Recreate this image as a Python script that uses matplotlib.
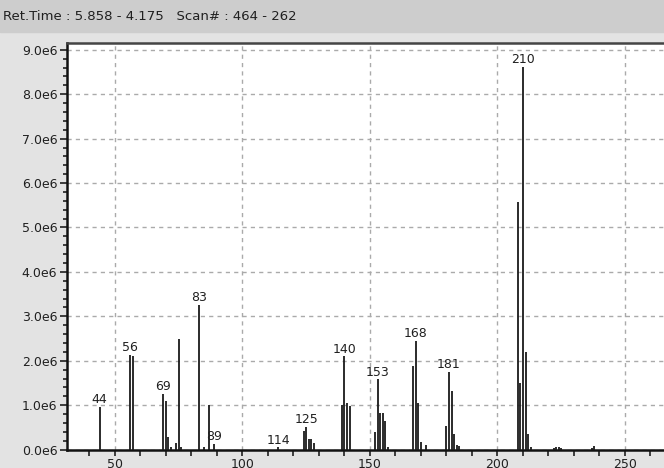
import matplotlib
matplotlib.use('Agg')
import matplotlib.pyplot as plt
from matplotlib.patches import Rectangle
from matplotlib.ticker import MultipleLocator, FuncFormatter

# m/z and intensity (x 1e6)
mz = [44, 56, 57, 69, 70, 71, 72, 74, 75, 76, 83, 85, 87, 89, 114,
      124, 125, 126, 127, 128, 139, 140, 141, 142,
      152, 153, 154, 155, 156, 157, 167, 168, 169, 170, 172,
      180, 181, 182, 183, 184, 185, 208, 209, 210, 211, 212, 213,
      222, 223, 224, 225, 237, 238]
intensity = [0.96, 2.13, 2.10, 1.25, 1.10, 0.29, 0.05, 0.14, 2.48, 0.05, 3.26, 0.05, 1.00, 0.13, 0.05,
             0.42, 0.52, 0.23, 0.23, 0.14, 1.00, 2.10, 1.05, 0.98,
             0.40, 1.58, 0.83, 0.83, 0.65, 0.05, 1.89, 2.45, 1.04, 0.16, 0.10,
             0.53, 1.75, 1.32, 0.34, 0.10, 0.08, 5.58, 1.49, 8.61, 2.20, 0.35, 0.05,
             0.04, 0.06, 0.05, 0.04, 0.04, 0.07]
labelled = [44, 56, 69, 83, 89, 114, 125, 140, 153, 168, 181, 210]
header = 'Ret.Time : 5.858 - 4.175   Scan# : 464 - 262'

W, H = 664, 468
fig = plt.figure(figsize=(W / 100, H / 100), dpi=100)
fig.patch.set_facecolor('#e3e3e3')
fig.add_artist(Rectangle((0, 1 - 32 / H), 1, 32 / H, transform=fig.transFigure,
                         color='#cdcdcd', zorder=0))
fig.text(3 / W, 1 - 17 / H, header, fontsize=9.5, color='#202020',
         ha='left', va='center')

ax = fig.add_axes([67 / W, (H - 449.6) / H, (W - 67) / W, (449.6 - 42.7) / H])
ax.set_facecolor('white')

ints = [v * 1e6 for v in intensity]
ax.vlines(mz, 0, ints, color='#1a1a1a', lw=1.3, zorder=3)

peak = dict(zip(mz, ints))
for m in labelled:
    ax.annotate(str(m), (m, peak[m]), xytext=(0, 0.5), textcoords='offset points',
                ha='center', va='bottom', fontsize=9, color='#202020', zorder=4)

ax.set_xlim(31.2, 265.3)
ax.set_ylim(0, 9.16e6)

ax.xaxis.set_major_locator(MultipleLocator(50))
ax.xaxis.set_minor_locator(MultipleLocator(10))
ax.yaxis.set_major_locator(MultipleLocator(1e6))
ax.yaxis.set_minor_locator(MultipleLocator(0.2e6))
ax.yaxis.set_major_formatter(FuncFormatter(lambda v, p: '%.1fe6' % (v / 1e6)))

ax.tick_params(axis='both', which='both', direction='out', colors='#202020',
               labelsize=9, width=1.2)
ax.tick_params(axis='x', which='both', length=4, pad=2)
ax.tick_params(axis='y', which='major', length=5, pad=2)
ax.tick_params(axis='y', which='minor', length=3)

ax.grid(True, which='major', color='#aaaaaa', lw=1, linestyle=(0, (3, 3)), zorder=1)
ax.set_axisbelow(True)

for side in ['left', 'bottom']:
    ax.spines[side].set_linewidth(1.8)
    ax.spines[side].set_color('#111111')
ax.spines['top'].set_linewidth(1.8)
ax.spines['top'].set_color('#444444')
ax.spines['right'].set_visible(False)

plt.savefig('out.png', dpi=100, facecolor=fig.get_facecolor())
